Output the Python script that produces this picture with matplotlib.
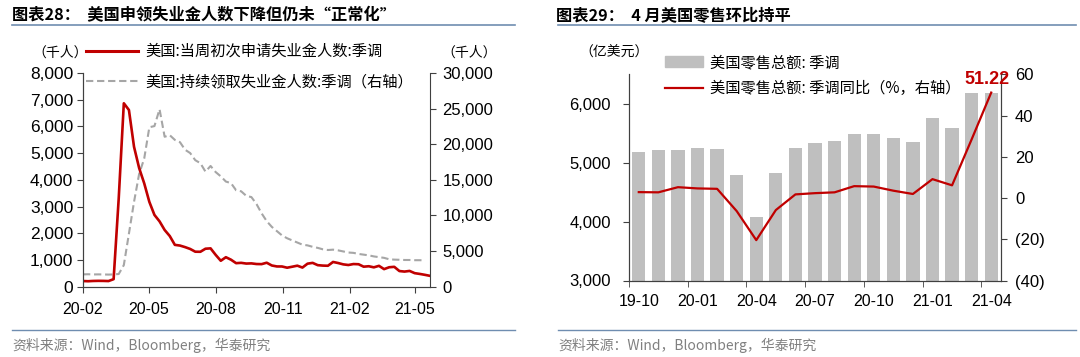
import matplotlib.pyplot as plt
import pandas as pd
from matplotlib.lines import Line2D
from matplotlib.patches import Patch
from matplotlib.ticker import FuncFormatter

plt.rcParams['font.family'] = ['Liberation Sans', 'Noto Sans CJK SC']
cjk = ['Noto Sans CJK SC', 'Liberation Sans']

# Chart 28: weekly US jobless claims (thousand), weeks ending Saturday from 2020-02-01
claims_start = '2020-02-01'
initial_claims = [212, 205, 215, 219, 217, 211, 282, 3307, 6867, 6615,
                  5237, 4442, 3867, 3176, 2687, 2446, 2123, 1897, 1566, 1540,
                  1482, 1413, 1310, 1307, 1422, 1435, 1191, 971, 1104, 1011,
                  881, 893, 866, 873, 849, 845, 898, 794, 758, 757,
                  711, 748, 787, 716, 862, 892, 806, 790, 784, 926,
                  886, 836, 812, 848, 841, 749, 766, 725, 781, 658,
                  728, 744, 586, 566, 590, 507, 478, 444, 406]
continuing_claims = [1730, 1750, 1720, 1730, 1720, 1700, 1720, 1780, 3030, 7450,
                     11910, 15820, 18010, 22380, 22550, 24910, 21050, 21270, 20610, 20290,
                     19230, 18760, 17760, 17340, 16150, 16950, 16090, 15490, 14760, 14540,
                     13540, 13390, 12750, 12580, 11600, 10300, 9200, 8400, 7800, 7200,
                     6800, 6500, 6200, 5900, 5800, 5600, 5450, 5250, 5150, 5200,
                     5100, 4950, 4800, 4750, 4600, 4500, 4400, 4250, 4150, 4050,
                     3850, 3800, 3780, 3750, 3750, 3720, 3720, 3700]
claims_ticks = ['2020-02-01', '2020-05-01', '2020-08-01', '2020-11-01', '2021-02-01', '2021-05-01']

# Chart 29: US retail sales (100 million USD) and YoY (%)
months = ['19-10', '19-11', '19-12', '20-01', '20-02', '20-03', '20-04', '20-05', '20-06', '20-07',
          '20-08', '20-09', '20-10', '20-11', '20-12', '21-01', '21-02', '21-03', '21-04']
retail_sales = [5190, 5215, 5225, 5250, 5240, 4788, 4087, 4828, 5252, 5328,
                5377, 5481, 5484, 5416, 5350, 5756, 5590, 6186, 6188]
retail_yoy = [2.9, 2.8, 5.3, 4.7, 4.5, -6.3, -20.4, -5.8, 1.8, 2.4,
              2.8, 5.8, 5.6, 3.6, 2.0, 9.2, 6.2, 28.5, 51.22]

red = '#C00000'
grey_line = '#A6A6A6'
bar_grey = '#BFBFBF'
rule_blue = '#6F8DB0'
W, H = 1080, 357


def fx(px):
    return px / W


def fy(py):
    return 1 - py / H


fig = plt.figure(figsize=(10.8, 3.57), dpi=100)

# titles and rules
fig.text(fx(12), fy(15), '图表28：  美国申领失业金人数下降但仍未“正常化”',
         family=cjk, fontsize=11.7, fontweight='bold', va='center')
fig.text(fx(556), fy(15), '图表29：  4 月美国零售环比持平',
         family=cjk, fontsize=11.7, fontweight='bold', va='center')
for x0, x1 in [(12, 515), (558, 1076)]:
    fig.add_artist(Line2D([fx(x0), fx(x1)], [fy(24.5), fy(24.5)], color=rule_blue, lw=1.2))
    fig.add_artist(Line2D([fx(x0), fx(x1)], [fy(330), fy(330)], color=rule_blue, lw=1.0))
fig.text(fx(12), fy(345), '资料来源：Wind，Bloomberg，华泰研究', family=cjk,
         fontsize=10, color='#808080', va='center')
fig.text(fx(558), fy(345), '资料来源：Wind，Bloomberg，华泰研究', family=cjk,
         fontsize=10, color='#808080', va='center')

# ---- chart 28 ----
dates = pd.date_range(claims_start, periods=len(initial_claims), freq='W-SAT')
axL = fig.add_axes([fx(83), fy(286.7), 347 / W, 213.7 / H])
axR = axL.twinx()
axL.set_zorder(axR.get_zorder() + 1)
axL.patch.set_visible(False)

axL.plot(dates, initial_claims, color=red, lw=1.9)
axR.plot(dates[:len(continuing_claims)], continuing_claims, color=grey_line, lw=1.5,
         ls=(0, (3.5, 1.8)))

axL.set_xlim(dates[0], dates[-1])
axL.set_ylim(0, 8000)
axR.set_ylim(0, 30000)
axL.set_yticks(range(0, 8001, 1000))
axR.set_yticks(range(0, 30001, 5000))
comma = FuncFormatter(lambda v, p: f'{v:,.0f}')
axL.yaxis.set_major_formatter(comma)
axR.yaxis.set_major_formatter(comma)
tick_dates = pd.to_datetime(claims_ticks)
axL.set_xticks(tick_dates)
axL.set_xticklabels([d.strftime('%y-%m') for d in tick_dates])

for ax in (axL, axR):
    ax.spines['top'].set_visible(False)
    for s in ax.spines.values():
        s.set_color('#404040')
        s.set_linewidth(0.8)
axL.spines['right'].set_visible(False)
axL.tick_params(axis='y', labelsize=12.5, length=4, pad=3, color='#404040')
axL.tick_params(axis='x', labelsize=11.5, length=4, pad=7, color='#404040')
axR.tick_params(axis='y', labelsize=12, length=4, pad=5, color='#404040')

fig.text(fx(88), fy(53), '（千人）', family=cjk, fontsize=10, ha='right', va='center')
fig.text(fx(469), fy(53), '（千人）', family=cjk, fontsize=10, ha='center', va='center')
fig.legend([Line2D([], [], color=red, lw=2.2),
            Line2D([], [], color=grey_line, lw=1.5, ls=(0, (3.5, 1.8)))],
           ['美国:当周初次申请失业金人数:季调', '美国:持续领取失业金人数:季调（右轴）'],
           loc='upper left', bbox_to_anchor=(fx(86), fy(43)), frameon=False,
           prop={'family': cjk, 'size': 11}, handlelength=3.4, handletextpad=0.5,
           labelspacing=0.85, borderpad=0, borderaxespad=0)

# ---- chart 29 ----
x = list(range(len(months)))
ax2 = fig.add_axes([fx(629), fy(280.5), 372 / W, 206 / H])
ax2r = ax2.twinx()
ax2.bar(x, retail_sales, width=0.68, color=bar_grey)
ax2r.plot(x, retail_yoy, color=red, lw=1.6)
ax2.set_xlim(-0.5, len(months) - 0.5)
ax2.set_ylim(3000, 6500)
ax2.set_yticks([3000, 4000, 5000, 6000])
ax2.yaxis.set_major_formatter(comma)
ax2r.set_ylim(-40, 60)
ax2r.set_yticks(range(-40, 61, 20))
ax2r.yaxis.set_major_formatter(FuncFormatter(lambda v, p: f'({abs(v):.0f})' if v < 0 else f'{v:.0f}'))
ax2.set_xticks(x[::3])
ax2.set_xticklabels(months[::3])
ax2.set_xticks([i - 0.5 for i in x[::3]], minor=True)
ax2.tick_params(axis='x', which='major', length=0, labelsize=11.5, pad=10)
ax2.tick_params(axis='x', which='minor', length=4, color='#404040')
ax2.tick_params(axis='y', labelsize=12, length=4, pad=9, color='#404040')
ax2r.tick_params(axis='y', labelsize=12, length=4, pad=6, color='#404040')
for ax in (ax2, ax2r):
    ax.spines['top'].set_visible(False)
    for s in ax.spines.values():
        s.set_color('#404040')
        s.set_linewidth(0.8)

ax2r.annotate(f'{retail_yoy[-1]:.2f}', xy=(x[-1], retail_yoy[-1]), xytext=(-3, 3),
              textcoords='offset points', ha='center', va='bottom', color=red,
              fontsize=13, fontweight='bold', annotation_clip=False)

fig.text(fx(614), fy(53), '（亿美元）', family=cjk, fontsize=10, ha='center', va='center')
fig.legend([Patch(color=bar_grey), Line2D([], [], color=red, lw=1.6)],
           ['美国零售总额: 季调', '美国零售总额: 季调同比（%，右轴）'],
           loc='upper left', bbox_to_anchor=(fx(665), fy(54)), frameon=False,
           prop={'family': cjk, 'size': 11}, handlelength=2.5, handletextpad=0.45,
           labelspacing=0.6, borderpad=0, borderaxespad=0)

fig.savefig('out.png', dpi=100)
